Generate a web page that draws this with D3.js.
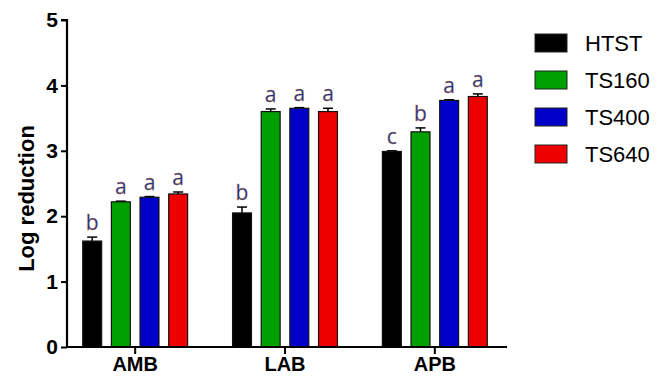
<!DOCTYPE html>
<html>
<head>
<meta charset="utf-8">
<script src="https://cdn.jsdelivr.net/npm/d3@7"></script>
<style>
  body { margin: 0; background: #fff; }
  text { font-family: Arial, "Liberation Sans", sans-serif; }
</style>
</head>
<body>
<script>
const groups = ['AMB', 'LAB', 'APB'];
const treatments = ['HTST', 'TS160', 'TS400', 'TS640'];
const colors = ['#000000', '#00a000', '#0000c8', '#ee0000'];
// mean and error per group, order follows treatments
const means = [
  [1.62, 2.22, 2.29, 2.34],
  [2.05, 3.60, 3.65, 3.60],
  [2.99, 3.29, 3.77, 3.83]
];
const errs = [
  [0.06, 0.01, 0.01, 0.03],
  [0.09, 0.04, 0.01, 0.05],
  [0.01, 0.06, 0.01, 0.04]
];
const letters = [
  ['b', 'a', 'a', 'a'],
  ['b', 'a', 'a', 'a'],
  ['c', 'b', 'a', 'a']
];
const yTicks = [0, 1, 2, 3, 4, 5];

const margin = {top: 20, left: 67, bottom: 35, right: 149};
const width = 656 - margin.left - margin.right;
const height = 382 - margin.top - margin.bottom;

const svg = d3.select('body').append('svg')
  .attr('width', 656)
  .attr('height', 382);

const g = svg.append('g')
  .attr('transform', `translate(${margin.left},${margin.top})`);

const x0 = d3.scaleBand().domain(groups).range([0, 436]).paddingInner(0.17).paddingOuter(0.04);
const x1 = d3.scaleBand().domain(treatments).range([0, x0.bandwidth()]).padding(0.34);
const y = d3.scaleLinear().domain([0, 5]).range([height, 0]);

const rows = [];
groups.forEach((grp, gi) => {
  treatments.forEach((t, ti) => {
    rows.push({grp, t, ti, v: means[gi][ti], e: errs[gi][ti], l: letters[gi][ti]});
  });
});

// error bars (upper only)
const eb = g.selectAll('.err').data(rows).join('g').attr('class', 'err')
  .attr('stroke', '#000').attr('stroke-width', 1.5);
eb.append('line')
  .attr('x1', d => x0(d.grp) + x1(d.t) + x1.bandwidth() / 2)
  .attr('x2', d => x0(d.grp) + x1(d.t) + x1.bandwidth() / 2)
  .attr('y1', d => y(d.v))
  .attr('y2', d => y(d.v + d.e));
eb.append('line')
  .attr('x1', d => x0(d.grp) + x1(d.t) + x1.bandwidth() / 2 - 5)
  .attr('x2', d => x0(d.grp) + x1(d.t) + x1.bandwidth() / 2 + 5)
  .attr('y1', d => y(d.v + d.e))
  .attr('y2', d => y(d.v + d.e));

g.selectAll('.bar').data(rows).join('rect').attr('class', 'bar')
  .attr('x', d => x0(d.grp) + x1(d.t))
  .attr('width', x1.bandwidth())
  .attr('y', d => y(d.v))
  .attr('height', d => height - y(d.v))
  .attr('fill', d => colors[d.ti])
  .attr('stroke', '#111')
  .attr('stroke-width', 1.2);

// significance letters
g.selectAll('.lbl').data(rows).join('text').attr('class', 'lbl')
  .attr('x', d => x0(d.grp) + x1(d.t) + x1.bandwidth() / 2)
  .attr('y', d => y(d.v + d.e) - 7)
  .attr('text-anchor', 'middle')
  .style('font-family', '"Open Sans", sans-serif')
  .style('font-size', '21px')
  .attr('fill', '#1c3590')
  .attr('stroke', '#b8702a')
  .attr('stroke-width', 0.3)
  .text(d => d.l);

// y axis
const yAxis = g.append('g')
  .call(d3.axisLeft(y).tickValues(yTicks).tickSize(6).tickPadding(3).tickFormat(d3.format('d')));
yAxis.select('.domain').attr('stroke-width', 2.2).attr('d', `M-6,0H0V${height}`);
yAxis.selectAll('.tick line').attr('stroke-width', 2);
yAxis.selectAll('.tick text').style('font-size', '21px').style('font-weight', 'bold').attr('fill', '#000');

// x axis
const xAxis = g.append('g')
  .attr('transform', `translate(0,${height})`)
  .call(d3.axisBottom(x0).tickSize(7).tickPadding(3));
xAxis.select('.domain').attr('stroke-width', 2.2).attr('d', `M0,0H${440}`);
xAxis.selectAll('.tick line').attr('stroke-width', 2);
xAxis.selectAll('.tick text').style('font-size', '20px').style('font-weight', 'bold').attr('fill', '#000');

svg.append('text')
  .attr('transform', `translate(34,${margin.top + height / 2 + 15}) rotate(-90)`)
  .attr('text-anchor', 'middle')
  .style('font-size', '22px')
  .style('font-weight', 'bold')
  .text('Log reduction');

// legend
const leg = svg.append('g').attr('transform', 'translate(535,34)');
const li = leg.selectAll('g').data(treatments).join('g')
  .attr('transform', (d, i) => `translate(0,${i * 37})`);
li.append('rect')
  .attr('width', 32).attr('height', 18)
  .attr('fill', (d, i) => colors[i])
  .attr('stroke', '#222').attr('stroke-width', 1);
li.append('text')
  .attr('x', 50).attr('y', 17)
  .style('font-size', '22px')
  .text(d => d);
</script>
</body>
</html>
